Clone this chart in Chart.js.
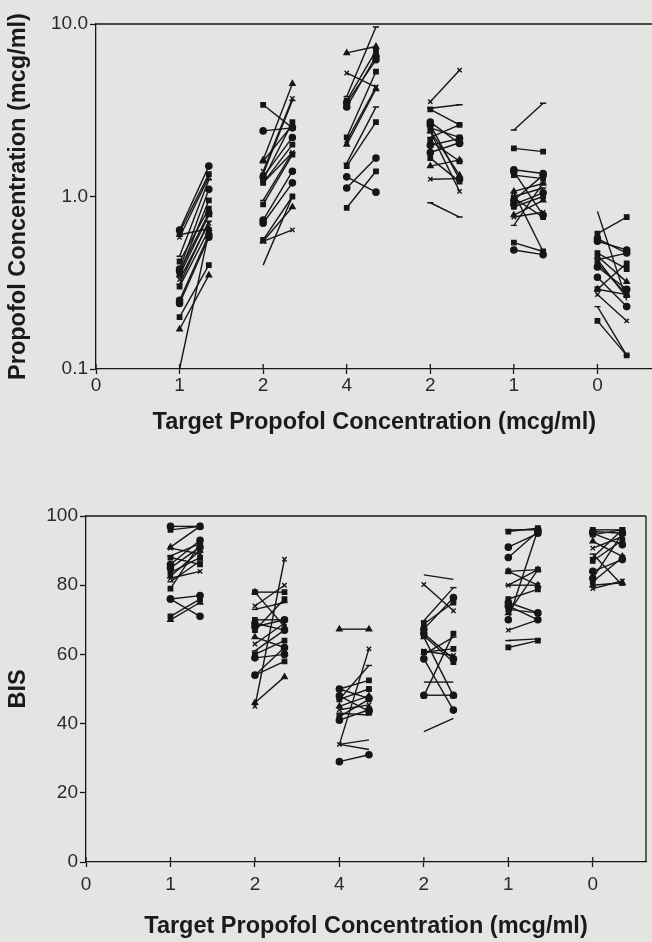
<!DOCTYPE html>
<html>
<head>
<meta charset="utf-8">
<script src="https://cdn.jsdelivr.net/npm/chart.js@4.4.1/dist/chart.umd.min.js"></script>
<style>
  html, body { margin: 0; padding: 0; background: #e4e4e2; overflow: hidden; }
  #wrap { position: relative; width: 652px; height: 942px; overflow: hidden; }
  canvas { position: absolute; left: 0; }
  #concChart { top: 0; }
  #bisChart { top: 480px; }
</style>
</head>
<body>
<div id="wrap">
  <canvas id="concChart" width="658" height="440"></canvas>
  <canvas id="bisChart" width="652" height="462"></canvas>
</div>
<script>
// tick labels of the x axis: target concentration at each step
const targetLabels = ['0', '1', '2', '4', '2', '1', '0'];
const concTicks = [0.1, 1, 10];
const bisTicks = [0, 20, 40, 60, 80, 100];

// measured propofol concentration (mcg/ml), [first sample, second sample] per subject
const concStep1 = [[0.64, 1.5], [0.62, 1.35], [0.6, 0.65], [0.58, 1.3], [0.45, 1.25], [0.42, 0.85],
  [0.38, 1.1], [0.37, 0.8], [0.36, 0.95], [0.35, 0.78], [0.33, 0.7], [0.31, 0.72], [0.3, 0.64],
  [0.25, 0.6], [0.24, 0.58], [0.2, 0.4], [0.17, 0.35]];
const concStep2 = [[3.4, 2.5], [1.63, 4.5], [1.4, 3.7], [1.35, 3.6], [1.25, 2.7], [2.4, 2.5],
  [1.3, 2.2], [1.2, 2.0], [1.6, 2.6], [1.2, 1.8], [0.95, 1.8], [0.9, 1.75], [0.73, 1.4],
  [0.7, 1.2], [0.56, 1.0], [0.55, 0.87], [0.55, 0.64]];
const concStep3 = [[6.8, 7.4], [5.2, 4.3], [3.8, 9.6], [3.6, 7.0], [3.5, 6.2], [3.3, 6.5],
  [2.2, 5.3], [2.0, 4.2], [2.1, 4.3], [1.56, 3.3], [1.5, 2.7], [1.3, 1.06], [1.12, 1.67], [0.86, 1.4]];
const concStep4 = [[3.54, 5.4], [3.25, 3.4], [3.2, 2.6], [2.7, 2.03], [2.6, 1.26], [2.5, 2.2],
  [2.4, 1.33], [2.38, 1.07], [2.2, 2.6], [2.1, 1.6], [1.98, 2.17], [1.8, 2.05], [1.67, 1.22],
  [1.5, 1.63], [1.26, 1.27], [0.92, 0.76]];
const concStep5 = [[2.43, 3.47], [1.9, 1.82], [1.43, 1.36], [1.39, 0.78], [1.33, 1.27], [1.07, 1.19],
  [1.05, 0.48], [1.0, 1.12], [0.98, 0.76], [0.95, 1.33], [0.9, 1.05], [0.87, 1.0], [0.78, 0.95],
  [0.76, 0.81], [0.68, 1.2], [0.54, 0.48], [0.49, 0.46]];
const concStep6 = [[0.61, 0.76], [0.57, 0.47], [0.55, 0.49], [0.47, 0.38], [0.45, 0.32], [0.43, 0.47],
  [0.43, 0.26], [0.41, 0.27], [0.39, 0.29], [0.34, 0.23], [0.29, 0.41], [0.29, 0.27], [0.27, 0.19],
  [0.23, 0.12], [0.19, 0.12]];
// pairs drawn without markers: [step, first, second]
const concBare = [[1, 0.1, 0.62], [2, 0.4, 1.0], [6, 0.82, 0.25]];

// BIS, [first sample, second sample] per subject
const bisStep1 = [[97, 97], [96, 97], [91, 97], [90.7, 89], [88.5, 92], [88, 86], [86, 93], [85, 91],
  [83.6, 88], [82.6, 90], [82, 84], [81, 87], [79, 92], [76, 77], [76, 71], [71, 76], [70, 75]];
const bisStep2 = [[78, 78], [78, 68], [74, 80], [73, 75], [70, 70], [69, 67], [68, 70], [67, 76],
  [65, 62], [63, 69], [61, 67], [60, 64], [59, 60], [54, 62], [54, 58], [46, 53.5], [45, 87.5]];
const bisStep3 = [[67.3, 67.3], [34, 61.6], [47, 56.8], [50, 52.5], [50, 47.3], [48, 43.5], [47, 50],
  [45, 48], [44, 45.4], [43, 42.5], [42, 47], [41, 44], [29, 31]];
const bisStep4 = [[80.2, 72.6], [69.7, 79.3], [68.8, 75], [67.3, 76.4], [66, 58.7], [65.4, 57.8],
  [65, 48], [61, 59.7], [60, 65], [60.7, 61.6], [58.7, 43.9], [48.2, 48.2], [48, 66]];
const bisStep5 = [[96, 96], [95.5, 96.5], [91, 95], [88, 95.5], [84, 84.5], [84, 80], [80, 80],
  [80, 84.5], [76, 78.8], [75, 72], [74, 70], [73, 72], [72, 84.5], [67, 70], [64, 64.5], [62, 64], [70, 96]];
const bisStep6 = [[96, 96], [95.5, 95], [95, 91.7], [94.6, 96], [92.7, 88.3], [90.7, 94], [88, 96],
  [87, 93], [84, 87.4], [82, 95], [81, 88], [80, 80.7], [79, 81.2], [89, 80]];
const bisBare = [[3, 34, 35.3], [3, 34, 32.5], [4, 83, 81.7], [4, 37.7, 41.5], [4, 52, 52]];

const ink = '#161616';
const fontFamily = '"Liberation Sans", Arial, sans-serif';
const markerStyles = ['circle', 'rect', 'triangle', 'crossRot', 'line', 'rect', 'circle'];
const sampleGap = 0.35;

function pairDataset(step, first, second, style, radius) {
  return {
    data: [{ x: step, y: first }, { x: step + sampleGap, y: second }],
    showLine: true,
    borderColor: ink,
    borderWidth: 1.4,
    pointStyle: style,
    pointRadius: radius,
    pointBackgroundColor: ink,
    pointBorderColor: ink,
    pointBorderWidth: 1.4
  };
}

function buildDatasets(steps, bare) {
  const sets = [];
  steps.forEach((pairs, i) => {
    pairs.forEach(([a, b], j) => {
      sets.push(pairDataset(i + 1, a, b, markerStyles[(i + j) % markerStyles.length], 3.1));
    });
  });
  bare.forEach(([step, a, b]) => sets.push(pairDataset(step, a, b, 'circle', 0)));
  return sets;
}

// top edge, optional right edge and the upper half of the x ticks
const framePlugin = {
  id: 'frame',
  afterDraw(chart, args, opts) {
    const { ctx, chartArea: a } = chart;
    const x = chart.scales.x;
    ctx.save();
    ctx.strokeStyle = ink;
    ctx.lineWidth = 1.3;
    ctx.beginPath();
    ctx.moveTo(a.left, a.top);
    ctx.lineTo(a.right, a.top);
    if (opts.right) {
      ctx.moveTo(a.right, a.top);
      ctx.lineTo(a.right, a.bottom);
    }
    x.ticks.forEach(t => {
      const px = x.getPixelForValue(t.value);
      ctx.moveTo(px, a.bottom);
      ctx.lineTo(px, a.bottom - 5);
    });
    ctx.stroke();
    ctx.restore();
  }
};

function makeChart(id, cfg) {
  return new Chart(document.getElementById(id), {
    type: 'scatter',
    data: { datasets: cfg.datasets },
    options: {
      responsive: false,
      animation: false,
      layout: { padding: cfg.padding },
      plugins: {
        legend: { display: false },
        tooltip: { enabled: false },
        frame: { right: cfg.rightEdge }
      },
      scales: {
        x: {
          type: 'linear',
          min: 0,
          max: cfg.xMax,
          afterBuildTicks: s => { s.ticks = targetLabels.map((_, i) => ({ value: i })); },
          afterFit: s => { s.height = cfg.xHeight; },
          ticks: {
            callback: v => targetLabels[v],
            color: '#2a2a2a',
            font: { family: fontFamily, size: 19 },
            padding: cfg.xTickPad,
            autoSkip: false,
            maxRotation: 0
          },
          grid: { drawOnChartArea: false, tickLength: 5, color: ink, tickWidth: 1.3 },
          border: { color: ink, width: 1.3 },
          title: {
            display: true,
            text: 'Target Propofol Concentration (mcg/ml)',
            color: '#1a1a1a',
            font: { family: fontFamily, size: 23.5, weight: 'bold' },
            padding: { top: 0, bottom: cfg.xTitlePad }
          }
        },
        y: {
          type: cfg.yType,
          min: cfg.yMin,
          max: cfg.yMax,
          afterBuildTicks: s => { s.ticks = cfg.yTicks.map(v => ({ value: v })); },
          afterFit: s => { s.width = cfg.yWidth; },
          ticks: {
            callback: cfg.yFormat,
            color: '#2a2a2a',
            font: { family: fontFamily, size: 19 },
            padding: 2
          },
          grid: { drawOnChartArea: false, tickLength: 6, color: ink, tickWidth: 1.3 },
          border: { color: ink, width: 1.3 },
          title: {
            display: true,
            text: cfg.yTitle,
            color: '#1a1a1a',
            font: { family: fontFamily, size: 23.5, weight: 'bold' },
            padding: { top: 4, bottom: 0 }
          }
        }
      }
    },
    plugins: [framePlugin]
  });
}

makeChart('concChart', {
  datasets: buildDatasets([concStep1, concStep2, concStep3, concStep4, concStep5, concStep6], concBare),
  padding: { top: 24, right: 0, bottom: 0, left: 0 },
  xMax: 6.66,
  xHeight: 71,
  xTickPad: 0,
  xTitlePad: 3,
  rightEdge: false,
  yType: 'logarithmic',
  yMin: 0.1,
  yMax: 10,
  yTicks: concTicks,
  yFormat: v => Number(v).toFixed(1),
  yWidth: 96,
  yTitle: 'Propofol Concentration (mcg/ml)'
});

makeChart('bisChart', {
  datasets: buildDatasets([bisStep1, bisStep2, bisStep3, bisStep4, bisStep5, bisStep6], bisBare),
  padding: { top: 36, right: 6, bottom: 0, left: 0 },
  xMax: 6.63,
  xHeight: 80,
  xTickPad: 6,
  xTitlePad: 1,
  rightEdge: true,
  yType: 'linear',
  yMin: 0,
  yMax: 100,
  yTicks: bisTicks,
  yFormat: v => String(v),
  yWidth: 86,
  yTitle: 'BIS'
});
</script>
</body>
</html>
